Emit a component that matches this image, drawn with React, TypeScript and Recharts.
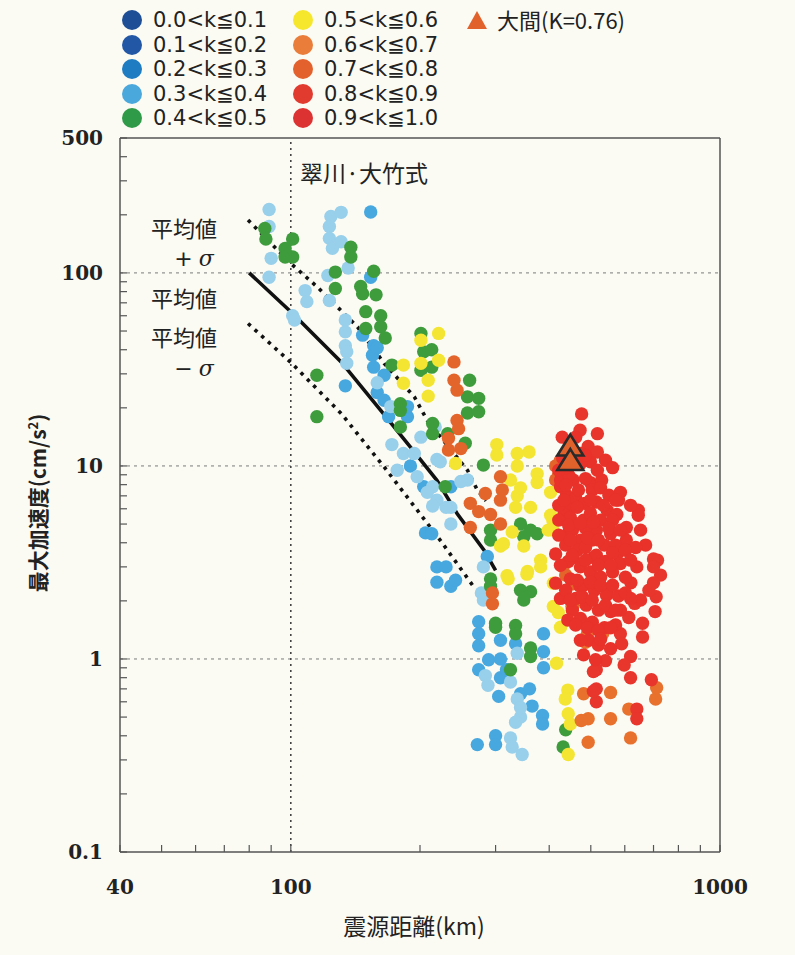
import { ReferenceLine, Scatter, ScatterChart, XAxis, YAxis } from "recharts";

type Pt = [number, number]; // [hypocentral distance km, peak acceleration cm/s2]

const xTicks = [40, 50, 60, 70, 80, 90, 100, 200, 300, 400, 500, 600, 700, 800, 900, 1000];
const xLabels = [40, 100, 1000];
const yTicks = [
  0.1, 0.2, 0.3, 0.4, 0.5, 0.6, 0.7, 0.8, 0.9, 1, 2, 3, 4, 5, 6, 7, 8, 9, 10, 20, 30, 40, 50,
  60, 70, 80, 90, 100, 200, 300, 400, 500,
];
const yLabels = [0.1, 1, 10, 100, 500];
const gridY = [1, 10, 100];

const kClasses = [
  "0.0<k≦0.1",
  "0.1<k≦0.2",
  "0.2<k≦0.3",
  "0.3<k≦0.4",
  "0.4<k≦0.5",
  "0.5<k≦0.6",
  "0.6<k≦0.7",
  "0.7<k≦0.8",
  "0.8<k≦0.9",
  "0.9<k≦1.0",
];
const legendColors = [
  "#1e4e95", "#2257a6", "#1d7cc2", "#4ba8dd", "#2f9a48",
  "#f6e72c", "#ea7d39", "#e3612d", "#e13b30", "#dd3232",
];
const dotColors = [
  "#1e4e95", "#2257a6", "#47a7df", "#98cfea", "#3f9c3d",
  "#f3e531", "#e8712e", "#e4652b", "#e8362c", "#e8322a",
];

const k00: Pt[] = [];
const k12: Pt[] = [];
const k23: Pt[] = [
  [153.5, 207], [153.5, 95], [147, 47.6], [156, 42], [155, 37.5], [156, 32.5], [165, 29.5],
  [134, 26], [159, 24], [159, 41], [165, 21.9], [169, 18], [187, 18], [187, 20.3], [190, 10],
  [204, 7.8], [236, 7.8], [287, 3.4], [219, 3.0], [219, 2.5], [236, 2.38], [274, 1.56],
  [274, 1.35], [274, 1.17], [308, 1.25], [334, 1.2], [388, 1.35], [388, 1.09], [388, 0.9],
  [289, 0.99], [308, 1.0], [274, 0.88], [308, 0.8], [305, 0.64], [343, 0.66], [365, 0.57],
  [386, 0.51], [386, 0.46], [272, 0.36], [300, 0.4], [300, 0.36], [206, 4.5], [213, 4.45],
  [360, 0.7], [318, 0.88], [242, 2.56], [230, 3.0],
];
const k34: Pt[] = [
  [89, 213], [89, 174], [90, 119], [89, 95], [124, 196], [131, 206], [123, 174], [123, 151],
  [125, 134], [131, 145], [136, 106], [122, 97], [108, 81], [109, 71], [123, 72], [101, 60],
  [102, 57], [134, 57], [134, 49.5], [134, 42], [135, 39], [135, 34], [159, 27], [171, 20.3],
  [201, 14.1], [172, 12.9], [183, 11.6], [194, 11.6], [177, 9.5], [217, 15.9], [219, 10.8],
  [197, 8.8], [214, 7.8], [219, 6.65], [236, 6.1], [258, 8.45], [281, 3.0], [278, 2.2],
  [281, 2.02], [284, 0.82], [288, 0.73], [325, 0.76], [337, 0.62], [343, 0.5], [325, 0.39],
  [328, 0.35], [346, 0.32], [337, 1.07], [230, 6.1], [236, 5.0], [334, 0.47], [249, 8.3],
  [223, 10.5], [208, 7.3], [343, 0.56], [214, 6.2],
];
const k45: Pt[] = [
  [87, 170], [87.5, 150], [101, 150], [97, 134], [101, 121], [97, 121], [138, 136], [138, 121],
  [127, 101], [127, 83], [156, 102], [145.5, 85], [147, 78], [158, 77], [149.5, 63],
  [149.5, 51.5], [162, 60], [162, 52.6], [166, 46], [115, 29.5], [172, 33.3], [115, 18],
  [180, 21], [180, 19.4], [180, 15.9], [201, 48.6], [204, 39], [213, 40], [201, 31.3],
  [213, 32.5], [261, 27.8], [258, 22.8], [274, 22.4], [258, 18.8], [274, 19.1], [214, 16.6],
  [214, 14.7], [232, 14.7], [255, 13.1], [281, 10.1], [229, 7.8], [292, 4.65], [292, 4.13],
  [343, 5.0], [362, 4.65], [349, 4.3], [375, 4.45], [292, 2.6], [292, 2.38], [343, 2.27],
  [362, 2.23], [349, 2.02], [300, 1.53], [300, 1.46], [334, 1.49], [334, 1.35], [362, 1.14],
  [362, 1.03], [325, 0.88], [437, 0.43], [431, 0.35],
];
const k56: Pt[] = [
  [221, 48.6], [201, 44.8], [183, 33.3], [201, 34], [221, 35.3], [209, 27.8], [183, 26.8],
  [209, 23], [242, 10.3], [302, 12.9], [302, 11.4], [337, 11.6], [359, 11.8], [337, 10],
  [375, 9.1], [375, 8.2], [325, 8.45], [337, 7.0], [362, 6.1], [308, 3.85], [319, 2.7],
  [356, 2.84], [382, 3.25], [382, 3.0], [408, 5.2], [408, 4.65], [403, 5.55], [334, 6.1],
  [328, 4.55], [349, 3.85], [409, 1.87], [420, 1.74], [425, 1.46], [416, 0.95], [442, 0.69],
  [436, 0.62], [443, 0.52], [443, 0.32], [403, 7.3], [343, 7.7], [313, 3.95], [398, 4.65],
  [355, 2.75], [321, 2.6], [409, 2.47], [448, 0.46],
];
const k67: Pt[] = [
  [481, 0.66], [493, 0.49], [491, 1.35], [486, 1.22], [533, 1.35], [556, 0.67], [475, 0.48],
  [556, 0.49], [493, 0.37], [619, 0.39], [708, 0.62], [712, 0.71], [613, 0.55], [431, 3.0],
  [452, 1.87],
];
const k78: Pt[] = [
  [240, 34.6], [240, 27.8], [244, 24.7], [244, 17.2], [246, 15.6], [233, 13.9], [233, 12.1],
  [249, 12.3], [308, 8.8], [284, 7.2], [311, 7.5], [308, 6.65], [262, 6.4], [274, 5.8],
  [292, 5.6], [262, 4.8], [308, 5.0], [295, 2.2], [295, 1.93], [414, 10], [420, 8.9],
  [437, 2.72], [455, 2.45], [455, 1.9], [414, 8.45], [425, 10.7],
];
const k89: Pt[] = [
  [476, 18.6], [472, 15.3], [518, 14.7], [429, 14.1], [493, 12.6], [518, 11.8], [473, 11.6],
  [710, 2.1], [706, 1.76], [660, 1.53], [660, 1.3], [613, 1.64], [586, 1.35], [590, 1.2],
  [619, 1.03], [598, 0.93], [515, 0.88], [619, 0.8], [692, 0.78], [515, 0.7], [515, 0.6],
  [640, 0.55], [640, 0.49], [633, 1.94], [507, 0.86], [507, 0.68], [541, 0.98], [715, 3.25],
  [727, 2.72], [683, 2.27], [700, 3.3], [700, 3.0], [700, 2.48],
];
const k910: Pt[] = [
  [425, 7.8], [455, 8.45], [499, 8.2], [530, 8.45], [586, 7.3], [580, 6.65], [645, 5.9],
  [645, 5.55], [546, 5.9], [575, 5.6], [448, 6.1], [433, 5.6], [481, 5.24], [442, 4.45],
  [473, 4.13], [515, 4.65], [556, 4.45], [605, 4.8], [605, 4.13], [414, 3.5], [455, 3.35],
  [507, 3.35], [575, 3.5], [586, 3.12], [640, 3.0], [414, 2.47], [472, 2.38], [515, 2.56],
  [546, 2.27], [620, 2.48], [425, 8.45], [444, 8.95], [486, 8.6], [504, 7.5], [527, 7.7],
  [551, 7.05], [439, 7.05], [461, 6.85], [484, 6.4], [515, 6.5], [421, 6.25], [448, 5.4],
  [499, 5.7], [527, 5.24], [562, 5.24], [453, 4.65], [486, 4.75], [504, 4.13], [538, 3.89],
  [571, 3.89], [437, 3.89], [465, 3.66], [486, 3.78], [515, 3.45], [541, 3.2], [443, 3.2],
  [473, 3.0], [499, 2.82], [527, 2.65], [562, 2.82], [602, 2.65], [448, 2.6], [481, 2.41],
  [510, 2.27], [544, 2.14], [580, 2.12], [461, 2.06], [488, 1.9], [521, 1.79], [556, 1.76],
  [473, 1.62], [504, 1.55], [538, 1.45], [571, 1.5], [494, 1.25], [521, 1.18], [556, 1.13],
  [453, 1.79], [425, 2.06], [442, 1.59], [461, 14.1], [437, 9.8], [541, 10.7], [562, 9.8],
  [499, 10.5], [619, 6.25], [653, 4.65], [671, 3.89], [636, 3.78], [653, 2.02], [619, 2.06],
  [586, 1.79], [421, 9.5], [437, 7.95], [468, 7.5], [433, 6.65], [465, 6.1], [499, 6.65],
  [535, 6.25], [571, 6.65], [421, 5.24], [444, 4.93], [473, 5.05], [507, 5.1], [551, 4.75],
  [586, 4.65], [421, 4.38], [448, 4.13], [491, 4.25], [521, 4.13], [562, 3.55], [602, 3.66],
  [425, 3.06], [453, 3.45], [486, 3.25], [521, 3.06], [556, 3.06], [619, 3.25], [437, 2.27],
  [465, 2.56], [499, 2.5], [527, 2.41], [562, 2.41], [602, 2.2], [448, 2.02], [478, 2.1],
  [504, 2.02], [541, 1.9], [571, 1.79], [461, 1.5], [491, 1.45], [521, 1.41], [556, 1.45],
  [473, 1.25], [527, 1.27], [481, 1.05], [513, 0.99], [430, 11.0], [473, 10.3], [518, 9.5],
  [486, 11.4],
];
const kSeries = [k00, k12, k23, k34, k45, k56, k67, k78, k89, k910];

// 大間 station (K=0.76)
const omaLabel = "大間(K=0.76)";
const omaColor = "#e2622c";
const oma: Pt[] = [[448, 12.6], [448, 10.6]];

// 翠川・大竹式 attenuation curves
const meanLine: Pt[] = [
  [80, 100], [101, 61.6], [131, 34.6], [162, 19.4], [190, 12.5], [219, 8.43], [244, 5.67],
  [282, 3.66], [300, 2.88],
];
const upperLine: Pt[] = [
  [79.5, 188], [100, 112], [115, 85], [143, 52.5], [165, 34], [194, 22.8], [208, 17.2],
  [258, 9.5], [272, 7.5], [285, 6.6],
];
const lowerLine: Pt[] = [
  [79.5, 54.7], [100, 34.4], [131, 18.7], [165, 9.88], [223, 4.12], [267, 2.36],
];

const FONT_NUM = "'DejaVu Serif', 'Liberation Serif', serif";
const FONT_LEG = "'DejaVu Sans', 'Noto Sans', sans-serif";
const FONT_JP = "'Noto Sans CJK JP', 'Noto Sans', sans-serif";
const INK = "#222";
const AXIS = "#555";

const toPts = (arr: Pt[]) => arr.map(([dist, pga]) => ({ dist, pga }));

function XTick({ x, y, payload }: any) {
  if (!xLabels.includes(payload.value)) return <g />;
  return (
    <text x={x} y={y} textAnchor="middle" dominantBaseline="central" fontFamily={FONT_NUM}
      fontWeight="bold" fontSize={20} fill={INK}>
      {payload.value}
    </text>
  );
}

function YTick({ x, y, payload }: any) {
  if (!yLabels.includes(payload.value)) return <g />;
  return (
    <text x={x} y={y} textAnchor="end" dominantBaseline="central" fontFamily={FONT_NUM}
      fontWeight="bold" fontSize={20} fill={INK}>
      {payload.value}
    </text>
  );
}

const dot = (color: string) => (props: any) =>
  <circle cx={props.cx} cy={props.cy} r={6.7} fill={color} />;

const triangle = (props: any) => {
  const { cx, cy } = props;
  return (
    <path d={`M${cx},${cy - 12} L${cx + 13},${cy + 9} L${cx - 13},${cy + 9} Z`}
      fill={omaColor} stroke="#2a2a2a" strokeWidth={2.6} strokeLinejoin="miter" />
  );
};

function Note({ x, y, size = 22, children, style }: any) {
  return (
    <div style={{
      position: "absolute", left: x, top: y, transform: "translate(-50%, -50%)",
      fontFamily: FONT_JP, fontSize: size, lineHeight: 1, whiteSpace: "nowrap", color: INK,
      ...style,
    }}>
      {children}
    </div>
  );
}

function Sigma({ sign }: { sign: string }) {
  return (
    <span style={{ fontFamily: FONT_LEG, fontSize: 22 }}>
      {sign}
      <i style={{ fontFamily: FONT_NUM, marginLeft: 6 }}>σ</i>
    </span>
  );
}

function Legend() {
  const textStyle = {
    position: "absolute" as const, fontFamily: FONT_LEG, fontSize: 21, lineHeight: "22px",
    color: INK, whiteSpace: "nowrap" as const,
  };
  return (
    <>
      {kClasses.map((label, i) => {
        const col = Math.floor(i / 5);
        const row = i % 5;
        const cy = 20 + row * 24.5;
        const cx = col === 0 ? 132 : 303;
        return (
          <div key={label}>
            <div style={{
              position: "absolute", left: cx - 10, top: cy - 10, width: 20, height: 20,
              borderRadius: "50%", background: legendColors[i],
            }} />
            <div style={{ ...textStyle, left: cx + 21, top: cy - 11 }}>{label}</div>
          </div>
        );
      })}
      <svg style={{ position: "absolute", left: 465, top: 9 }} width={24} height={22}>
        <path d="M12,2 L22,20 L2,20 Z" fill={omaColor} />
      </svg>
      <div style={{ ...textStyle, fontFamily: FONT_JP, left: 497, top: 8, fontSize: 22 }}>
        {omaLabel}
      </div>
    </>
  );
}

export default function App() {
  const axisLine = { stroke: AXIS, strokeWidth: 1.5 };
  const tickLine = { stroke: AXIS, strokeWidth: 1.2 };
  return (
    <div style={{ position: "absolute", left: 0, top: 0, width: 795, height: 955, background: "#fbfbf4" }}>
      <ScatterChart width={795} height={955} margin={{ top: 137, right: 74, bottom: 43, left: 60 }}>
        <XAxis dataKey="dist" type="number" scale="log" domain={[40, 1000]} allowDataOverflow
          ticks={xTicks} interval={0} tickSize={-7} tickMargin={42} height={60}
          tick={<XTick />} axisLine={axisLine} tickLine={tickLine} />
        <XAxis xAxisId="top" orientation="top" type="number" scale="log" domain={[40, 1000]}
          allowDataOverflow ticks={xTicks} interval={0} tickSize={-7} height={1} tick={false}
          axisLine={axisLine} tickLine={tickLine} />
        <YAxis dataKey="pga" type="number" scale="log" domain={[0.1, 500]} allowDataOverflow
          ticks={yTicks} interval={0} tickSize={-7} tickMargin={24} width={60}
          tick={<YTick />} axisLine={axisLine} tickLine={tickLine} />
        <YAxis yAxisId="right" orientation="right" type="number" scale="log" domain={[0.1, 500]}
          allowDataOverflow ticks={yTicks} interval={0} tickSize={-7} width={1} tick={false}
          axisLine={axisLine} tickLine={tickLine} />

        {gridY.map((v) => (
          <ReferenceLine key={v} y={v} stroke="#7a7a7a" strokeWidth={1} strokeDasharray="3 4" />
        ))}
        <ReferenceLine x={100} stroke="#444" strokeWidth={1.6} strokeDasharray="2 4" />

        <Scatter data={toPts(upperLine)} line={{ stroke: "#111", strokeWidth: 3.6, strokeDasharray: "3.5 5.5", fill: "none" }}
          shape={() => <g />} isAnimationActive={false} />
        <Scatter data={toPts(meanLine)} line={{ stroke: "#111", strokeWidth: 3.6, fill: "none" }}
          shape={() => <g />} isAnimationActive={false} />
        <Scatter data={toPts(lowerLine)} line={{ stroke: "#111", strokeWidth: 3.6, strokeDasharray: "3.5 5.5", fill: "none" }}
          shape={() => <g />} isAnimationActive={false} />

        {kSeries.map((series, i) => (
          <Scatter key={kClasses[i]} name={kClasses[i]} data={toPts(series)}
            fill={dotColors[i]} shape={dot(dotColors[i])} isAnimationActive={false} />
        ))}
        <Scatter name={omaLabel} data={toPts(oma)} fill={omaColor} shape={triangle}
          isAnimationActive={false} />
      </ScatterChart>

      <Legend />

      <Note x={364} y={172} size={23}>翠川·大竹式</Note>
      <Note x={184} y={227}>平均値</Note>
      <Note x={194} y={257}><Sigma sign="+" /></Note>
      <Note x={184} y={297}>平均値</Note>
      <Note x={184} y={336}>平均値</Note>
      <Note x={194} y={367}><Sigma sign="−" /></Note>

      <Note x={414} y={925} size={23}>震源距離(km)</Note>
      <Note x={37} y={503} size={21} style={{ transform: "translate(-50%, -50%) rotate(-90deg)", fontWeight: 700 }}>
        最大加速度(cm/s<sup style={{ fontSize: 13 }}>2</sup>)
      </Note>
    </div>
  );
}
